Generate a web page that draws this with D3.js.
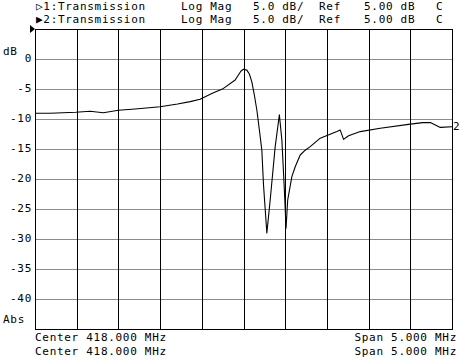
<!DOCTYPE html>
<html>
<head>
<meta charset="utf-8">
<script src="https://cdn.jsdelivr.net/npm/d3@7"></script>
<style>
  body { margin: 0; background: #fff; }
  text { font-family: "DejaVu Sans Mono", monospace; font-size: 11px; letter-spacing: 0.7px; fill: #000; }
</style>
</head>
<body>
<script>
// trace: frequency in MHz, transmission in dB
var freq = [415.50, 415.68, 415.99, 416.16, 416.32, 416.50, 416.70, 417.00, 417.21, 417.36,
  417.48, 417.62, 417.76, 417.90, 417.97, 418.00, 418.04, 418.07, 418.10, 418.13,
  418.16, 418.19, 418.22, 418.24, 418.28, 418.32, 418.38, 418.43, 418.46, 418.49,
  418.51, 418.53, 418.58, 418.62, 418.68, 418.74, 418.80, 418.92, 419.12, 419.16,
  419.20, 419.26, 419.40, 419.64, 420.00, 420.15, 420.24, 420.36, 420.50]
var dB = [-9.05, -9.05, -8.88, -8.72, -8.95, -8.55, -8.33, -7.95, -7.5, -7.1,
  -6.7, -5.75, -4.9, -3.5, -2.0, -1.7, -1.85, -2.5, -3.8, -6.0,
  -8.5, -11.8, -15.2, -21.0, -29.0, -23.5, -14.6, -9.3, -13.5, -21.8,
  -28.2, -23.5, -19.6, -17.95, -16.0, -15.2, -14.6, -13.2, -12.1, -11.85,
  -13.4, -12.8, -12.1, -11.55, -10.85, -10.6, -10.6, -11.4, -11.3]

var yTicks = [0, -5, -10, -15, -20, -25, -30, -35, -40]
var header1 = [['\u25B71:Transmission', 36], ['Log Mag', 181], ['5.0 dB/', 253], ['Ref', 319], ['5.00 dB', 364], ['C', 436]]
var header2 = [['\u25B62:Transmission', 36], ['Log Mag', 181], ['5.0 dB/', 253], ['Ref', 319], ['5.00 dB', 364], ['C', 436]]
var footLeft = 'Center 418.000 MHz'
var footRight = 'Span 5.000 MHz'

var W = 463, H = 357
var svg = d3.select('body').append('svg').attr('width', W).attr('height', H)

var x = d3.scaleLinear().domain([415.5, 420.5]).range([35, 452])
var y = d3.scaleLinear().domain([-45, 5]).range([329, 29])

// horizontal grid (gray)
svg.append('g').selectAll('line')
  .data(d3.range(-40, 5, 5))
  .enter().append('line')
  .attr('x1', x(415.5)).attr('x2', x(420.5))
  .attr('y1', function(d) { return y(d) + 0.5 }).attr('y2', function(d) { return y(d) + 0.5 })
  .attr('stroke', '#8c8c8c').attr('stroke-width', 1)

// vertical grid (black)
svg.append('g').selectAll('line')
  .data(d3.range(1, 10).map(function(i) { return 415.5 + i * 0.5 }))
  .enter().append('line')
  .attr('x1', function(d) { return Math.round(x(d)) + 0.5 }).attr('x2', function(d) { return Math.round(x(d)) + 0.5 })
  .attr('y1', y(5)).attr('y2', y(-45))
  .attr('stroke', '#000').attr('stroke-width', 1)

// frame
svg.append('rect')
  .attr('x', x(415.5) + 0.5).attr('y', y(5) + 0.5)
  .attr('width', x(420.5) - x(415.5)).attr('height', y(-45) - y(5))
  .attr('fill', 'none').attr('stroke', '#000').attr('stroke-width', 1)

// trace
var line = d3.line()
  .x(function(d, i) { return x(freq[i]) })
  .y(function(d) { return y(d) })
svg.append('path')
  .attr('d', line(dB))
  .attr('fill', 'none').attr('stroke', '#000').attr('stroke-width', 1.1)
  .attr('stroke-linejoin', 'round')

// y tick labels
svg.append('g').selectAll('text')
  .data(yTicks)
  .enter().append('text')
  .attr('x', 32).attr('y', function(d) { return y(d) })
  .attr('text-anchor', 'end').attr('dominant-baseline', 'middle')
  .text(function(d) { return String(d) })

svg.append('text').attr('x', 3).attr('y', 55).text('dB')
svg.append('text').attr('x', 3).attr('y', 323).text('Abs')

// reference marker
svg.append('path')
  .attr('d', 'M30,25L30,33L35,29Z')
  .attr('fill', '#000')

// trace label at right
svg.append('text').attr('x', 453).attr('y', 130).text('2')

// header
header1.forEach(function(h) { svg.append('text').attr('x', h[1]).attr('y', 10).text(h[0]) })
header2.forEach(function(h) { svg.append('text').attr('x', h[1]).attr('y', 23).text(h[0]) })

// footer
;[341, 355].forEach(function(by) {
  svg.append('text').attr('x', 35).attr('y', by).text(footLeft)
  svg.append('text').attr('x', 457).attr('y', by).attr('text-anchor', 'end').text(footRight)
})
</script>
</body>
</html>
